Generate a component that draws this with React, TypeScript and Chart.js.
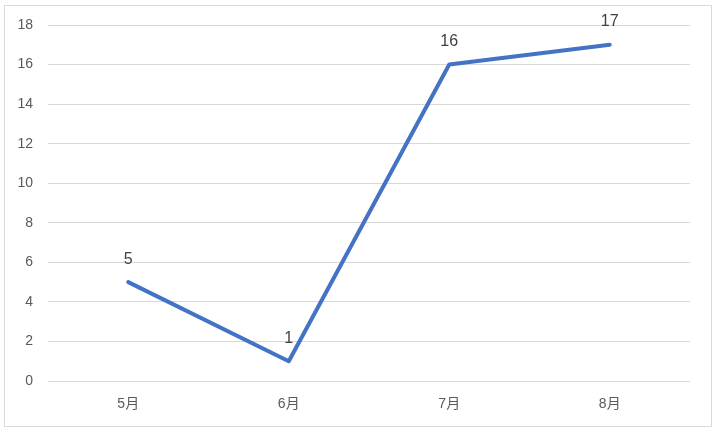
import React, { useEffect, useRef } from "react";
import { Chart, registerables } from "chart.js";

Chart.register(...registerables);

const categories = ["5月", "6月", "7月", "8月"];
const seriesValues = [5, 1, 16, 17];
const yTicks = [0, 2, 4, 6, 8, 10, 12, 14, 16, 18];

const FONT = "'Liberation Sans', 'Noto Sans CJK SC', sans-serif";

const frameAndLabels = {
  id: "frameAndLabels",
  afterDraw(chart: any) {
    const ctx = chart.ctx;
    ctx.save();
    ctx.strokeStyle = "#d9d9d9";
    ctx.lineWidth = 1;
    ctx.strokeRect(4.5, 5.5, 707, 421);
    const meta = chart.getDatasetMeta(0);
    ctx.fillStyle = "#404040";
    ctx.font = `16px ${FONT}`;
    ctx.textAlign = "center";
    ctx.textBaseline = "middle";
    meta.data.forEach((pt: any, i: number) => {
      ctx.fillText(String(seriesValues[i]), pt.x, pt.y - 23);
    });
    ctx.restore();
  },
};

export default function App() {
  const ref = useRef<HTMLCanvasElement>(null);
  useEffect(() => {
    document.body.style.margin = "0";
    const chart = new Chart(ref.current!, {
      type: "line",
      data: {
        labels: categories,
        datasets: [
          {
            data: seriesValues,
            borderColor: "#4472C4",
            borderWidth: 4,
            pointRadius: 0,
            borderJoinStyle: "round",
            borderCapStyle: "round",
            tension: 0,
          },
        ],
      },
      options: {
        animation: false,
        responsive: false,
        layout: { padding: { top: 25, right: 26, left: 0, bottom: 0 } },
        plugins: { legend: { display: false }, tooltip: { enabled: false } },
        scales: {
          x: {
            offset: true,
            grid: { display: false, drawTicks: false },
            border: { display: false },
            ticks: { color: "#595959", font: { family: FONT, size: 14 }, padding: 15 },
            afterFit(scale: any) {
              scale.height = 50;
            },
          },
          y: {
            min: 0,
            max: 18,
            afterBuildTicks(scale: any) {
              scale.ticks = yTicks.map((v) => ({ value: v }));
            },
            grid: { color: "#d9d9d9", lineWidth: 1, drawTicks: false },
            border: { display: false },
            ticks: { color: "#595959", font: { family: FONT, size: 14 }, padding: 15 },
            afterFit(scale: any) {
              scale.width = 48;
            },
          },
        },
      },
      plugins: [frameAndLabels],
    });
    return () => chart.destroy();
  }, []);
  return <canvas ref={ref} width={716} height={431} style={{ display: "block" }} />;
}
